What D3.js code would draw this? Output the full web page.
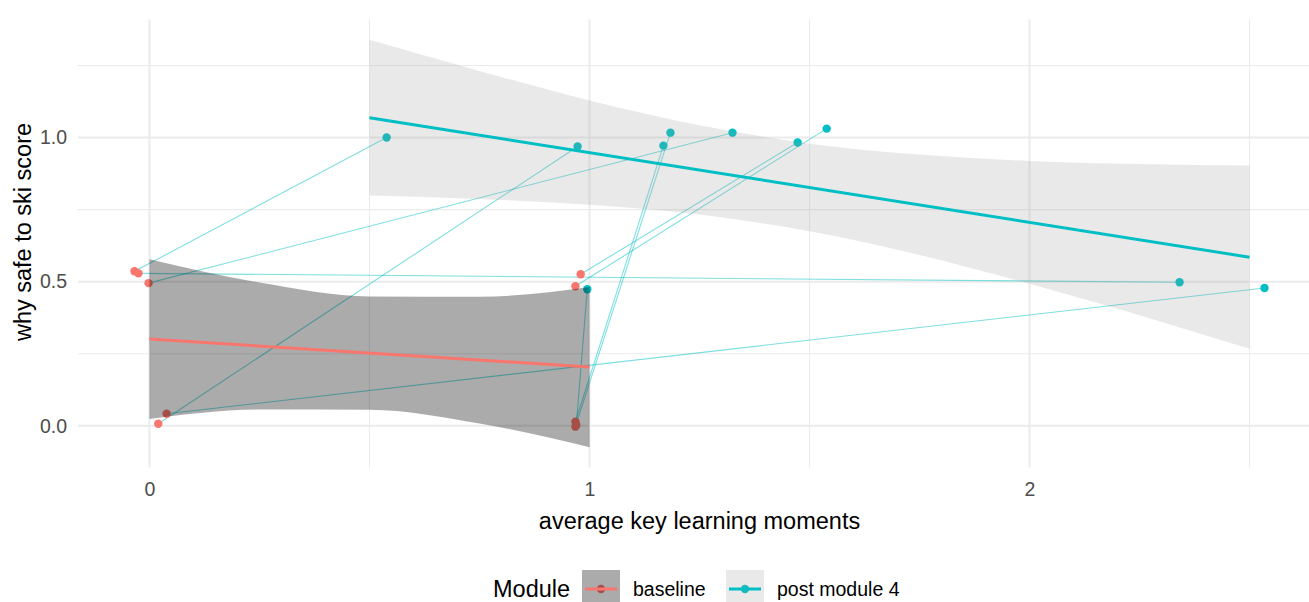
<!DOCTYPE html>
<html>
<head>
<meta charset="utf-8">
<script src="https://cdn.jsdelivr.net/npm/d3@7"></script>
<style>
  html, body { margin: 0; padding: 0; background: #fff; }
  svg { display: block; font-family: "Liberation Sans", Arial, sans-serif; }
</style>
</head>
<body>
<svg id="chart" width="1309" height="602"></svg>
<script>
// Paired scores: index i in the baseline arrays matches index i in the post arrays
const baselineX = [-0.034, -0.025, -0.002, 0.039, 0.020, 0.980, 0.968, 0.968, 0.968, 0.970];
const baselineY = [0.536, 0.529, 0.495, 0.042, 0.007, 0.526, 0.484, 0.014, -0.003, 0.003];
const postX = [0.539, 2.341, 1.325, 2.534, 0.973, 1.473, 1.539, 1.168, 1.184, 0.995];
const postY = [1.000, 0.498, 1.017, 0.478, 0.969, 0.983, 1.031, 0.972, 1.017, 0.474];

// Linear fits and their confidence ribbons
const baselineFitX = [0, 1];
const baselineFitY = [0.301, 0.204];
const baselineBandX = [0, 0.25, 0.5, 0.75, 1];
const baselineBandLo = [0.024, 0.057, 0.056, 0.008, -0.074];
const baselineBandHi = [0.578, 0.497, 0.449, 0.448, 0.482];

const postFitX = [0.5, 2.5];
const postFitY = [1.069, 0.585];
const postBandX = [0.5, 0.75, 1.0, 1.25, 1.5, 1.75, 2.0, 2.25, 2.5];
const postBandLo = [0.799, 0.787, 0.767, 0.733, 0.675, 0.593, 0.493, 0.384, 0.267];
const postBandHi = [1.339, 1.231, 1.129, 1.043, 0.979, 0.941, 0.919, 0.908, 0.903];

const xTicks = [0, 1, 2];
const xMinor = [0.5, 1.5, 2.5];
const yTicks = [0, 0.5, 1.0];
const yMinor = [0.25, 0.75, 1.25];
const moduleNames = ["baseline", "post module 4"];
const moduleColors = ["#F8766D", "#00BFC4"];

const svg = d3.select("#chart");
const panel = { left: 78, right: 1321, top: 19.5, bottom: 467.5 };

// ggplot-style 5% expansion of the data range
function expand(lo, hi) { const d = (hi - lo) * 0.05; return [lo - d, hi + d]; }
const allX = baselineX.concat(postX, baselineBandX, postBandX);
const allY = baselineY.concat(postY, baselineBandLo, baselineBandHi, postBandLo, postBandHi);
const x = d3.scaleLinear().domain(expand(d3.min(allX), d3.max(allX))).range([panel.left, panel.right]);
const y = d3.scaleLinear().domain(expand(d3.min(allY), d3.max(allY))).range([panel.bottom, panel.top]);

// grid
const grid = svg.append("g");
grid.selectAll(".ymin").data(yMinor).join("line")
  .attr("x1", panel.left).attr("x2", panel.right)
  .attr("y1", d => y(d)).attr("y2", d => y(d))
  .attr("stroke", "#ebebeb").attr("stroke-width", 1.1);
grid.selectAll(".xmin").data(xMinor).join("line")
  .attr("y1", panel.top).attr("y2", panel.bottom)
  .attr("x1", d => x(d)).attr("x2", d => x(d))
  .attr("stroke", "#ebebeb").attr("stroke-width", 1.1);
grid.selectAll(".ymaj").data(yTicks).join("line")
  .attr("x1", panel.left).attr("x2", panel.right)
  .attr("y1", d => y(d)).attr("y2", d => y(d))
  .attr("stroke", "#ebebeb").attr("stroke-width", 2);
grid.selectAll(".xmaj").data(xTicks).join("line")
  .attr("y1", panel.top).attr("y2", panel.bottom)
  .attr("x1", d => x(d)).attr("x2", d => x(d))
  .attr("stroke", "#ebebeb").attr("stroke-width", 2);

// connecting lines between each person's two scores
const pairs = baselineX.map((bx, i) => ({ x0: bx, y0: baselineY[i], x1: postX[i], y1: postY[i] }));
svg.append("g").selectAll("line").data(pairs).join("line")
  .attr("x1", d => x(d.x0)).attr("y1", d => y(d.y0))
  .attr("x2", d => x(d.x1)).attr("y2", d => y(d.y1))
  .attr("stroke", "#00BFC4").attr("stroke-opacity", 0.5).attr("stroke-width", 1.1);

// points
const pts = svg.append("g");
pts.selectAll(".b").data(baselineX.map((v, i) => [v, baselineY[i]])).join("circle")
  .attr("cx", d => x(d[0])).attr("cy", d => y(d[1])).attr("r", 4.2)
  .attr("fill", moduleColors[0]);
pts.selectAll(".p").data(postX.map((v, i) => [v, postY[i]])).join("circle")
  .attr("cx", d => x(d[0])).attr("cy", d => y(d[1])).attr("r", 4.2)
  .attr("fill", moduleColors[1]);

// confidence ribbons
const area = d3.area().curve(d3.curveMonotoneX)
  .x(d => x(d[0])).y0(d => y(d[1])).y1(d => y(d[2]));
svg.append("path")
  .datum(baselineBandX.map((v, i) => [v, baselineBandLo[i], baselineBandHi[i]]))
  .attr("d", area).attr("fill", "#000").attr("fill-opacity", 0.33);
svg.append("path")
  .datum(postBandX.map((v, i) => [v, postBandLo[i], postBandHi[i]]))
  .attr("d", area).attr("fill", "#999").attr("fill-opacity", 0.21);

// fitted lines
const line = d3.line().x(d => x(d[0])).y(d => y(d[1]));
svg.append("path")
  .datum(baselineFitX.map((v, i) => [v, baselineFitY[i]]))
  .attr("d", line).attr("fill", "none").attr("stroke", moduleColors[0]).attr("stroke-width", 3);
svg.append("path")
  .datum(postFitX.map((v, i) => [v, postFitY[i]]))
  .attr("d", line).attr("fill", "none").attr("stroke", moduleColors[1]).attr("stroke-width", 3);

// axes
const xAxis = svg.append("g").attr("transform", `translate(0,${panel.bottom})`)
  .call(d3.axisBottom(x).tickValues(xTicks).tickFormat(d3.format("d")).tickSize(0).tickPadding(15));
const yAxis = svg.append("g").attr("transform", `translate(67,0)`)
  .call(d3.axisLeft(y).tickValues(yTicks).tickFormat(d3.format(".1f")).tickSize(0).tickPadding(0));
[xAxis, yAxis].forEach(a => {
  a.select(".domain").remove();
  a.selectAll("text").attr("font-family", '"Liberation Sans", Arial, sans-serif')
    .attr("font-size", 19.5).attr("fill", "#4d4d4d");
});

svg.append("text").attr("x", (panel.left + panel.right) / 2).attr("y", 529)
  .attr("text-anchor", "middle").attr("font-size", 23.5).attr("fill", "#000")
  .text("average key learning moments");
svg.append("text").attr("transform", "translate(31,232) rotate(-90)")
  .attr("text-anchor", "middle").attr("font-size", 23.5).attr("fill", "#000")
  .text("why safe to ski score");

// legend
const leg = svg.append("g");
leg.append("text").attr("x", 493).attr("y", 597).attr("font-size", 23.5).attr("fill", "#000").text("Module");
const keyX = [582, 726];
const keyFill = [["#000", 0.33], ["#999", 0.21]];
moduleNames.forEach((name, i) => {
  const kx = keyX[i], cy = 589;
  leg.append("circle").attr("cx", kx + 19).attr("cy", cy).attr("r", 4.2).attr("fill", moduleColors[i]);
  leg.append("rect").attr("x", kx).attr("y", cy - 19).attr("width", 38).attr("height", 38)
    .attr("fill", keyFill[i][0]).attr("fill-opacity", keyFill[i][1]);
  leg.append("line").attr("x1", kx + 3).attr("x2", kx + 35).attr("y1", cy).attr("y2", cy)
    .attr("stroke", moduleColors[i]).attr("stroke-width", 3);
  leg.append("text").attr("x", kx + 51).attr("y", cy).attr("dy", "0.35em")
    .attr("font-size", 19.5).attr("fill", "#000").text(name);
});
</script>
</body>
</html>
